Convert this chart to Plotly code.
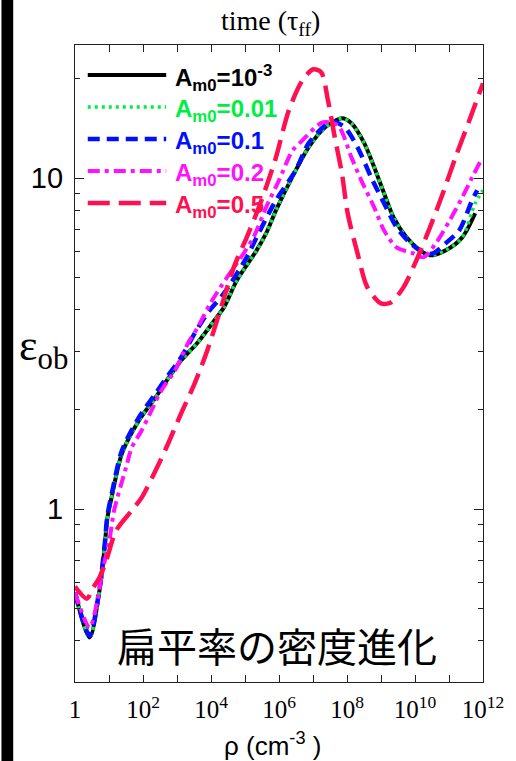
import plotly.graph_objects as go

# Density axis: log10 of rho (cm^-3); ellipticity eps_ob for each initial amplitude A_m0
lr_a001 = [0, 0.43, 0.72, 0.87, 0.95, 1.10, 1.38, 1.88, 2.37, 2.74, 3.12, 3.61, 4.10, 4.38,
           4.76, 5.34, 5.62, 5.91, 6.40, 6.87, 7.36, 7.85, 8.13, 8.51, 8.80, 9.09, 9.37, 9.75,
           10.15, 10.44, 10.90, 11.39, 11.77]
eps_a001 = [0.559, 0.409, 0.567, 0.765, 0.936, 1.114, 1.472, 1.853, 2.175, 2.483, 2.814, 3.190,
            3.719, 4.072, 4.914, 6.055, 6.817, 8.002, 10.14, 12.41, 14.27, 15.19, 14.67, 12.76,
            10.80, 9.01, 7.62, 6.63, 6.055, 5.85, 6.055, 6.63, 7.84]

lr_a01 = [0, 0.43, 0.72, 0.87, 0.95, 1.10, 1.38, 1.88, 2.37, 2.74, 3.12, 3.61, 4.10, 4.38,
          4.76, 5.34, 5.62, 5.91, 6.40, 6.87, 7.36, 7.85, 8.13, 8.51, 8.80, 9.09, 9.37, 9.75,
          10.15, 10.44, 10.90, 11.39, 11.77, 12.0]
eps_a01 = [0.559, 0.409, 0.567, 0.765, 0.936, 1.114, 1.472, 1.853, 2.175, 2.483, 2.814, 3.190,
           3.719, 4.072, 4.914, 6.055, 6.817, 8.002, 10.14, 12.41, 14.27, 15.19, 14.67, 12.76,
           10.80, 9.01, 7.62, 6.63, 6.055, 5.85, 6.055, 6.63, 8.41, 9.20]

lr_a1 = [0, 0.43, 0.72, 0.87, 0.95, 1.10, 1.38, 1.88, 2.37, 2.74, 3.12, 3.52, 3.89, 4.38, 5.05,
         5.34, 5.91, 6.49, 6.87, 7.36, 7.56, 7.93, 8.31, 8.71, 9.09, 9.46, 9.87, 10.24, 10.53,
         10.90, 11.30, 11.68, 11.83]
eps_a1 = [0.559, 0.414, 0.575, 0.775, 0.949, 1.137, 1.503, 1.892, 2.236, 2.534, 2.873, 3.396,
          3.904, 4.487, 5.768, 6.63, 8.58, 10.57, 12.76, 14.47, 14.88, 14.27, 12.41, 10.07, 8.41,
          7.11, 6.36, 5.97, 5.93, 6.36, 6.96, 8.58, 9.20]

lr_a2 = [0, 0.43, 0.64, 0.81, 1.01, 1.15, 1.50, 1.67, 1.96, 2.25, 2.54, 2.94, 3.32, 3.61, 3.98,
         4.47, 4.96, 5.25, 5.62, 6.00, 6.40, 6.69, 7.07, 7.30, 7.73, 8.13, 8.42, 8.80, 9.09, 9.46,
         9.95, 10.24, 10.61, 11.02, 11.39, 11.68, 11.91]
eps_a2 = [0.559, 0.438, 0.518, 0.652, 0.803, 0.990, 1.335, 1.535, 1.728, 1.986, 2.284, 2.625,
          3.168, 3.541, 4.186, 5.017, 5.93, 6.63, 8.17, 9.86, 12.15, 13.03, 14.27, 14.77, 14.47,
          11.57, 9.86, 8.17, 6.96, 6.18, 5.93, 5.77, 6.36, 7.46, 8.76, 10.07, 11.18]

lr_a5 = [0, 0.35, 0.52, 0.72, 0.92, 1.21, 1.67, 1.96, 2.37, 2.74, 3.12, 3.52, 3.89, 4.27, 4.67,
         5.05, 5.34, 5.62, 5.91, 6.29, 6.69, 7.01, 7.24, 7.44, 7.64, 7.85, 8.02, 8.31, 8.60, 9.00,
         9.29, 9.66, 10.04, 10.44, 10.82, 11.19, 11.60, 12.00]
eps_a5 = [0.583, 0.536, 0.575, 0.621, 0.699, 0.861, 0.990, 1.083, 1.307, 1.578, 1.945, 2.398,
          3.017, 3.987, 5.379, 6.63, 7.84, 9.39, 11.57, 16.06, 19.80, 21.37, 20.93, 17.22, 13.31,
          10.35, 7.84, 5.93, 4.68, 4.186, 4.215, 4.68, 5.65, 7.11, 9.01, 11.57, 14.98, 19.39]

labels = ["A<sub>m0</sub>=10<sup>-3</sup>", "A<sub>m0</sub>=0.01", "A<sub>m0</sub>=0.1",
          "A<sub>m0</sub>=0.2", "A<sub>m0</sub>=0.5"]
series = [(lr_a001, eps_a001), (lr_a01, eps_a01), (lr_a1, eps_a1), (lr_a2, eps_a2), (lr_a5, eps_a5)]

x_decades = list(range(0, 13))
x_ticktext = ["1" if k == 0 else ("10<sup>%d</sup>" % k if k % 2 == 0 else "") for k in x_decades]
y_major = [1, 10]
y_minor = [0.4, 0.5, 0.6, 0.7, 0.8, 0.9, 2, 3, 4, 5, 6, 7, 8, 9, 20]

colors = ["#000000", "#00ee44", "#0010ff", "#ff10ff", "#ff1050"]
dashes = ["solid", "3px,4px", "12px,7px", "12px,5px,4px,5px", "22px,9px"]
widths = [4, 3.5, 4.5, 4, 4.5]

W, H = 516, 761
L, R, T, B = 75, 491, 45, 682


def px(x):
    return (x - L) / (R - L)


def py(y):
    return (B - y) / (B - T)


def label(x, y, text, family, size, **kw):
    return dict(xref="paper", yref="paper", x=px(x), y=py(y), text=text, showarrow=False,
                xanchor=kw.get("xanchor", "center"), yanchor="middle",
                font=dict(family=family, size=size, color=kw.get("color", "black")))


fig = go.Figure()
for (lr, eps), c, d, w in zip(series, colors, dashes, widths):
    fig.add_trace(go.Scatter(
        x=[10 ** v for v in lr], y=eps, mode="lines",
        line=dict(color=c, dash=d, width=w, shape="spline", smoothing=0.8),
        showlegend=False, hoverinfo="skip"))

shapes = [dict(type="rect", xref="paper", yref="paper", x0=px(0), x1=px(12), y0=py(H), y1=py(0),
               fillcolor="black", line=dict(width=0), layer="below")]
annotations = []
legend_rows = [75, 107, 139, 171, 203]
for lab, c, d, w, yy in zip(labels, colors, dashes, widths, legend_rows):
    shapes.append(dict(type="line", xref="paper", yref="paper", x0=px(88), x1=px(168),
                       y0=py(yy), y1=py(yy), line=dict(color=c, dash=d, width=w)))
    annotations.append(label(175, yy + 3, "<b>%s</b>" % lab, "Liberation Sans", 24,
                             xanchor="left", color=c))

annotations += [
    label(274, 23, "time (τ<sub>ff</sub>)", "Liberation Serif", 28),
    label(43, 348, "ε<sub>ob</sub>", "Liberation Serif", 44),
    label(276, 744, "ρ (cm<sup>-3</sup> )", "Liberation Sans", 26),
    label(281, 645, "扁平率の密度進化", "Noto Sans CJK JP", 40),
]

fig.update_layout(
    width=W, height=H, margin=dict(l=L, r=W - R, t=T, b=H - B),
    paper_bgcolor="white", plot_bgcolor="white",
    shapes=shapes, annotations=annotations,
    xaxis=dict(type="log", range=[0, 12], tickvals=[10 ** k for k in x_decades],
               ticktext=x_ticktext, ticks="inside", ticklen=7, tickcolor="#222",
               showline=True, linecolor="#222", linewidth=1.2, mirror="ticks",
               showgrid=False, zeroline=False, ticklabelstandoff=5,
               tickfont=dict(family="Liberation Serif", size=25, color="black")),
    yaxis=dict(type="log", range=[-0.5229, 1.4031], tickvals=y_major, ticktext=["1", "10"],
               ticks="inside", ticklen=9, tickcolor="#222",
               minor=dict(tickvals=y_minor, ticks="inside", ticklen=5, tickcolor="#222"),
               showline=True, linecolor="#222", linewidth=1.2, mirror="ticks",
               showgrid=False, zeroline=False, ticklabelstandoff=5,
               tickfont=dict(family="Liberation Sans", size=29, color="black")),
)

fig.write_html("out.html")
